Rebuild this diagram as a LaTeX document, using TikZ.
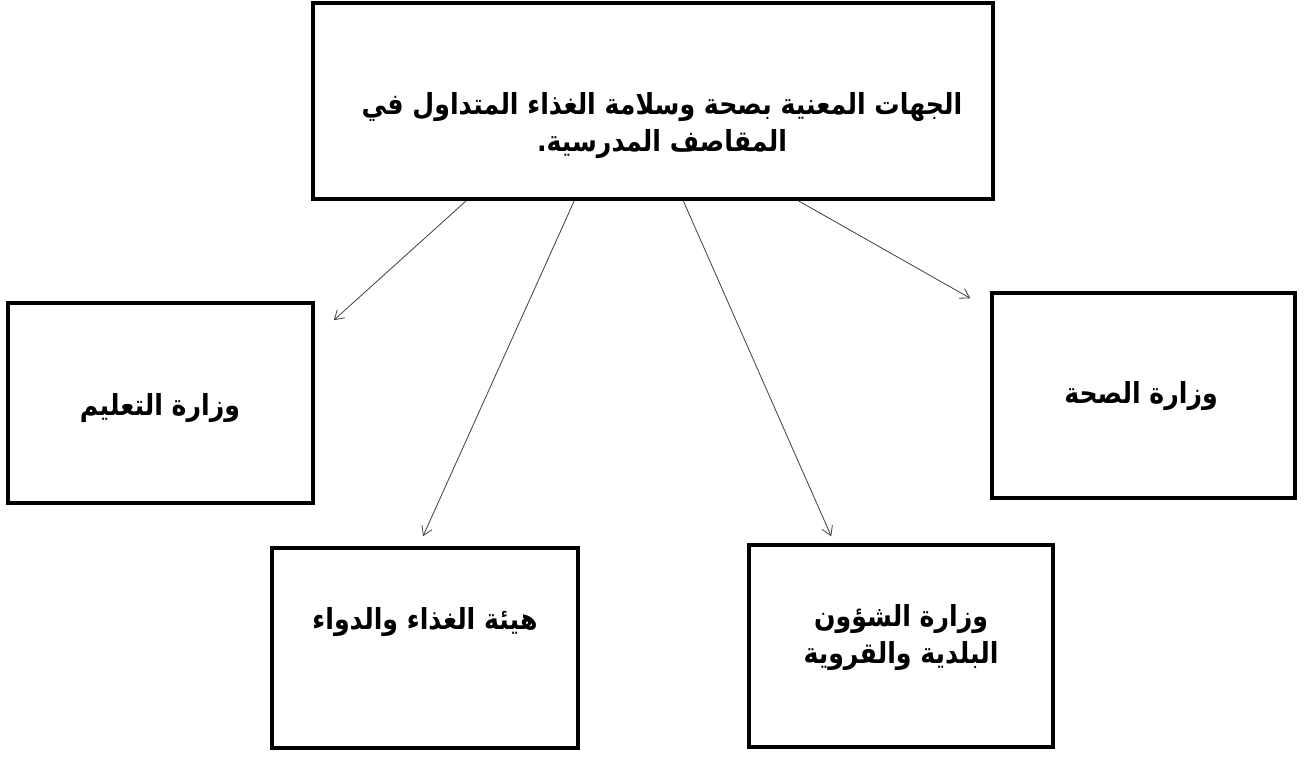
\documentclass[tikz,border=0pt]{standalone}
\usepackage{fontspec}
\TeXXeTstate=1
\newfontfamily\arabicfont[Script=Arabic,FakeStretch=0.87]{DejaVu Sans}
\usetikzlibrary{arrows.meta,calc}
\begin{document}
\begin{tikzpicture}[x=1pt,y=-1pt,
  box/.style={draw=black, line width=3.5pt, rectangle, inner sep=0pt},
  lbl/.style={font=\arabicfont\bfseries\fontsize{29}{37}\selectfont, align=center, inner sep=0pt},
  arr/.style={draw=black!75, line width=0.8pt, -{Straight Barb[length=9pt,width=11pt]}}]
\fill[white] (0,0) rectangle (1308,756);
\useasboundingbox (0,0) rectangle (1308,756);
% boxes
\node[box, minimum width=680pt, minimum height=196pt] (top) at (653,101) {};
\node[box, minimum width=305pt, minimum height=200pt] (edu) at (160.5,403) {};
\node[box, minimum width=303pt, minimum height=205pt] (hea) at (1143.5,395.5) {};
\node[box, minimum width=306pt, minimum height=200pt] (sfda) at (425,648) {};
\node[box, minimum width=304pt, minimum height=202pt] (mun) at (901,646) {};
% labels
\node[lbl] (toptxt) at (662,126) {\beginR الجهات المعنية بصحة وسلامة الغذاء المتداول في\endR\\\beginR المقاصف المدرسية.\endR};
\node[lbl] (edutxt) at (160,408) {\beginR وزارة التعليم\endR};
\node[lbl] (heatxt) at (1141,396) {\beginR وزارة الصحة\endR};
\node[lbl] (sfdatxt) at (425,622) {\beginR هيئة الغذاء والدواء\endR};
\node[lbl] (muntxt) at (901,638) {\beginR وزارة الشؤون\endR\\\beginR البلدية والقروية\endR};
% connector end points
\coordinate (e1) at ($(edu.north east)+(19,19)$);
\coordinate (e2) at ($(sfda.north)+(-2,-10)$);
\coordinate (e3) at ($(mun.north west)+(84,-7)$);
\coordinate (e4) at ($(hea.north west)+(-20,7)$);
\draw[arr] ($(top.south west)+(155,0)$) -- (e1);
\draw[arr] ($(top.south west)+(263,0)$) -- (e2);
\draw[arr] ($(top.south west)+(372,0)$) -- (e3);
\draw[arr] ($(top.south west)+(487,0)$) -- (e4);
\end{tikzpicture}
\end{document}
